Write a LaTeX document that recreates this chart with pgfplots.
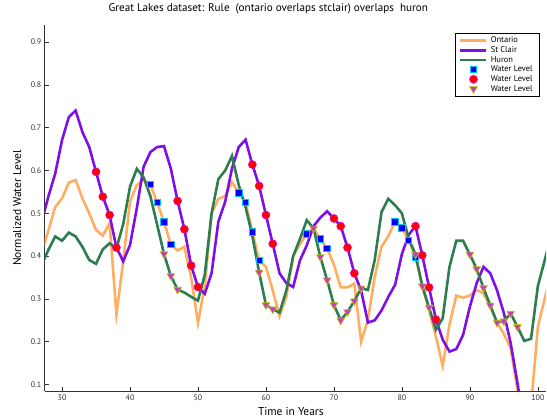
\documentclass[border=0pt]{standalone}
\usepackage{fontspec}
\setmainfont{PT Sans}
\usepackage{pgfplots}
\usepackage{pgfplotstable}
\pgfplotsset{compat=1.18}
\definecolor{ontario}{HTML}{FFAD60}
\definecolor{stclair}{HTML}{7D10E6}
\definecolor{huron}{HTML}{2D7D4E}
\definecolor{sqfill}{HTML}{0000FF}
\definecolor{sqedge}{HTML}{00C8F0}
\definecolor{cirfill}{HTML}{FF0000}
\definecolor{ciredge}{HTML}{F000C0}
\definecolor{trifill}{HTML}{C040C0}
\definecolor{triedge}{HTML}{C8C800}

% yearly levels of the three lakes
\pgfplotstableread{
yr ont stc hur
27 0.410 0.480 0.380
28 0.460 0.540 0.415
29 0.515 0.593 0.446
30 0.535 0.671 0.436
31 0.572 0.725 0.455
32 0.578 0.740 0.446
33 0.535 0.690 0.422
34 0.500 0.655 0.391
35 0.461 0.597 0.382
36 0.448 0.539 0.416
37 0.477 0.496 0.430
38 0.264 0.420 0.418
39 0.388 0.388 0.475
40 0.527 0.426 0.562
41 0.566 0.512 0.604
42 0.578 0.609 0.584
43 0.567 0.643 0.540
44 0.525 0.655 0.473
45 0.480 0.657 0.405
46 0.428 0.605 0.354
47 0.413 0.529 0.322
48 0.422 0.463 0.315
49 0.350 0.378 0.305
50 0.244 0.328 0.296
51 0.330 0.312 0.357
52 0.500 0.360 0.500
53 0.534 0.481 0.580
54 0.540 0.527 0.600
55 0.573 0.605 0.634
56 0.548 0.655 0.566
57 0.525 0.672 0.515
58 0.457 0.614 0.447
59 0.390 0.564 0.362
60 0.375 0.496 0.286
61 0.320 0.429 0.276
62 0.260 0.360 0.268
63 0.305 0.337 0.320
64 0.400 0.328 0.400
65 0.428 0.390 0.440
66 0.452 0.425 0.484
67 0.465 0.470 0.465
68 0.440 0.490 0.398
69 0.418 0.505 0.344
70 0.380 0.488 0.286
71 0.327 0.470 0.250
72 0.327 0.420 0.270
73 0.336 0.360 0.295
74 0.200 0.320 0.325
75 0.251 0.245 0.321
76 0.352 0.250 0.391
77 0.422 0.273 0.503
78 0.447 0.305 0.534
79 0.480 0.333 0.519
80 0.466 0.405 0.500
81 0.437 0.450 0.441
82 0.398 0.470 0.404
83 0.330 0.402 0.330
84 0.274 0.327 0.280
85 0.212 0.252 0.228
86 0.144 0.205 0.255
87 0.240 0.177 0.375
88 0.308 0.183 0.436
89 0.303 0.216 0.436
90 0.308 0.282 0.404
91 0.321 0.337 0.370
92 0.313 0.375 0.326
93 0.282 0.360 0.285
94 0.245 0.320 0.245
95 0.218 0.267 0.248
96 0.185 0.197 0.266
97 0.088 0.104 0.235
98 0.000 0.000 0.202
99 0.050 nan 0.207
100 0.235 nan 0.330
101 0.300 nan 0.390
102 0.360 nan 0.450
}\lakes

\begin{document}
\begin{tikzpicture}
\path[use as bounding box] (-44.7bp,-29bp) rectangle (502.3bp,391bp);
\begin{axis}[
  at={(0,0)}, anchor=south west,
  scale only axis, width=501.3bp, height=366bp,
  xmin=27.45, xmax=101.2, ymin=0.085, ymax=0.94,
  axis lines=left, axis line style={-, black!80, line width=0.8pt},
  tick align=inside, major tick length=4bp,
  tick style={black!80, line width=0.7pt},
  xtick={30,40,...,100},
  ytick={0.1,0.2,...,0.9},
  yticklabel style={/pgf/number format/.cd, fixed, fixed zerofill, precision=1},
  /pgf/number format/assume math mode=true,
  tick label style={font=\fontsize{8}{9.5}\selectfont, black!80},
  title={Great Lakes dataset: Rule\ \ (ontario overlaps stclair) overlaps\ \ huron},
  title style={at={(0.446,1)}, anchor=base, yshift=8bp, font=\fontsize{11.2}{13}\selectfont},
  xlabel={Time in Years},
  xlabel style={at={(0.491,0)}, anchor=base, yshift=-24bp, font=\fontsize{11.5}{13}\selectfont},
  ylabel={Normalized Water Level},
  ylabel style={at={(-0.055,0.5)}, anchor=center, font=\fontsize{11.5}{13}\selectfont},
  legend cell align=left,
  legend style={at={(0.988,0.978)}, anchor=north east, draw=black, line width=0.8pt,
    font=\fontsize{8.5}{10}\selectfont, inner xsep=4pt, inner ysep=1.5pt, row sep=-1.8pt,
    nodes={inner xsep=3pt}},
  legend image code/.code={\draw[mark repeat=2, mark phase=2, #1]
    plot coordinates {(0bp,0bp) (13bp,0bp) (26bp,0bp)};},
]
\addplot[ontario, line width=2.6pt] table[x=yr, y=ont] {\lakes};
\addlegendentry{Ontario}
\addplot[stclair, line width=2.6pt] table[x=yr, y=stc] {\lakes};
\addlegendentry{St Clair}
\addplot[huron, line width=2.6pt] table[x=yr, y=hur] {\lakes};
\addlegendentry{Huron}

\addplot[only marks, mark=square*, mark size=3.2bp,
  mark options={fill=sqfill, draw=sqedge, line width=0.9pt}] coordinates {
  (43,0.567) (44,0.525) (45,0.480) (46,0.428)
  (56,0.548) (57,0.525) (58,0.457) (59,0.390)
  (66,0.452) (68,0.440) (69,0.418)
  (79,0.480) (80,0.466) (81,0.437) (82,0.398)
};
\addlegendentry{Water Level}
\addplot[only marks, mark=*, mark size=4bp,
  mark options={fill=cirfill, draw=ciredge, line width=0.6pt}] coordinates {
  (35,0.597) (36,0.539) (37,0.496) (38,0.420)
  (47,0.529) (48,0.463) (49,0.378) (50,0.328)
  (58,0.614) (59,0.564) (60,0.496) (61,0.429)
  (70,0.488) (71,0.470) (72,0.420) (73,0.360)
  (82,0.470) (83,0.402) (84,0.327) (85,0.252)
};
\addlegendentry{Water Level}
\addplot[only marks, mark=triangle*, mark size=4.5bp,
  mark options={rotate=180, fill=trifill, draw=triedge, line width=0.6pt}] coordinates {
  (45,0.405) (46,0.354) (47,0.322)
  (59,0.362) (60,0.286) (61,0.276)
  (67,0.465) (68,0.398) (69,0.344) (70,0.286) (71,0.250) (72,0.270) (73,0.295) (74,0.325)
  (82,0.404) (83,0.330) (84,0.280)
  (90,0.404) (91,0.370) (92,0.326) (93,0.285) (94,0.245) (95,0.248) (96,0.266) (97,0.235)
};
\addlegendentry{Water Level}
\end{axis}
\end{tikzpicture}
\end{document}
